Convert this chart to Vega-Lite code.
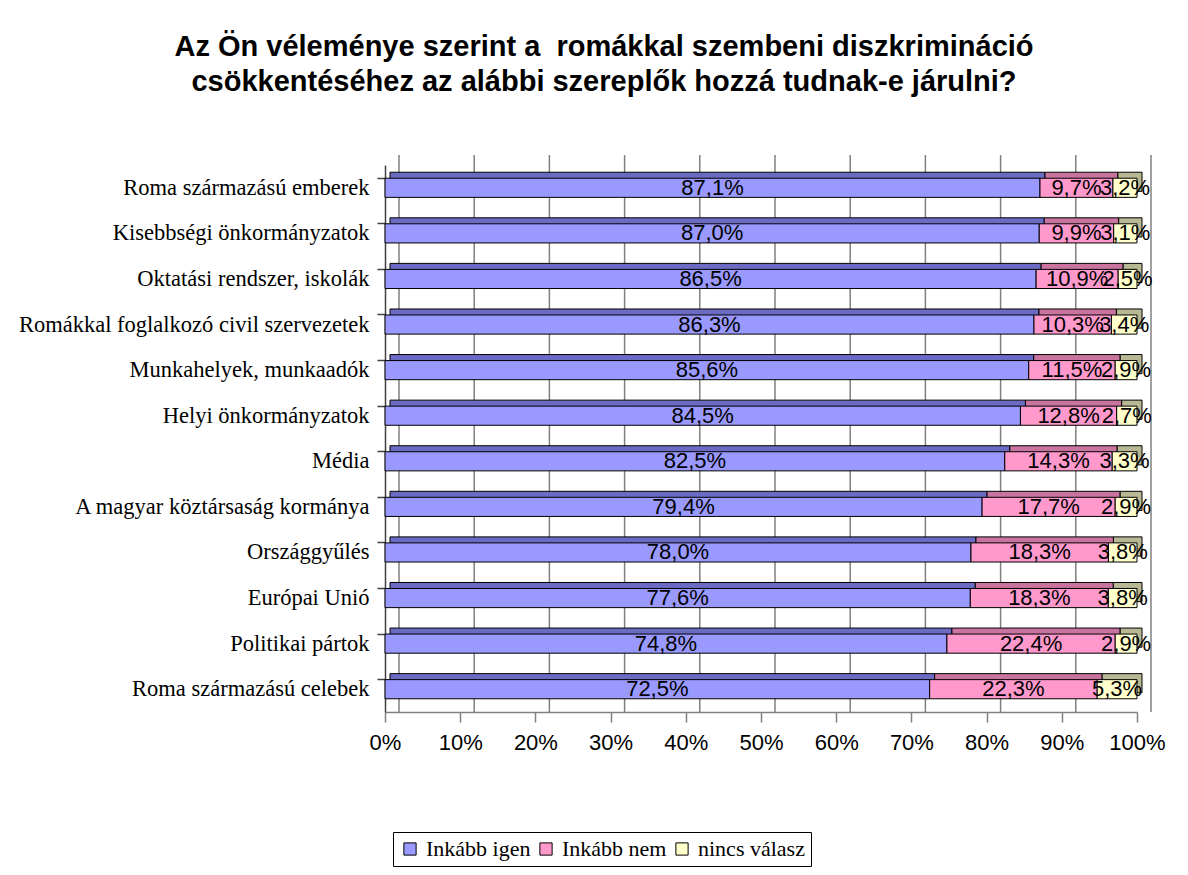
{
  "$schema": "https://vega.github.io/schema/vega-lite/v6.json",
  "width": 752,
  "height": 547,
  "autosize": {"type": "none"},
  "padding": {"left": 385, "top": 165, "right": 51, "bottom": 163},
  "background": "white",
  "title": {
    "text": ["Az Ön véleménye szerint a\u00a0 romákkal szembeni diszkrimináció", "csökkentéséhez az alábbi szereplők hozzá tudnak-e járulni?"],
    "font": "Liberation Sans",
    "fontSize": 29,
    "fontWeight": "bold",
    "color": "black",
    "anchor": "middle",
    "frame": "group",
    "dx": -157,
    "offset": 57,
    "lineHeight": 35
  },
  "datasets": {
    "grid": [{"g": 0}, {"g": 0.1}, {"g": 0.2}, {"g": 0.3}, {"g": 0.4}, {"g": 0.5}, {"g": 0.6}, {"g": 0.7}, {"g": 0.8}, {"g": 0.9}, {"g": 1}],
    "bars": [
      {"cat": "Roma származású emberek", "series": "Inkább igen", "o": 1, "value": 87.1, "label": "87,1%"},
      {"cat": "Roma származású emberek", "series": "Inkább nem", "o": 2, "value": 9.7, "label": "9,7%"},
      {"cat": "Roma származású emberek", "series": "nincs válasz", "o": 3, "value": 3.2, "label": "3,2%"},
      {"cat": "Kisebbségi önkormányzatok", "series": "Inkább igen", "o": 1, "value": 87.0, "label": "87,0%"},
      {"cat": "Kisebbségi önkormányzatok", "series": "Inkább nem", "o": 2, "value": 9.9, "label": "9,9%"},
      {"cat": "Kisebbségi önkormányzatok", "series": "nincs válasz", "o": 3, "value": 3.1, "label": "3,1%"},
      {"cat": "Oktatási rendszer, iskolák", "series": "Inkább igen", "o": 1, "value": 86.5, "label": "86,5%"},
      {"cat": "Oktatási rendszer, iskolák", "series": "Inkább nem", "o": 2, "value": 10.9, "label": "10,9%"},
      {"cat": "Oktatási rendszer, iskolák", "series": "nincs válasz", "o": 3, "value": 2.5, "label": "2,5%"},
      {"cat": "Romákkal foglalkozó civil szervezetek", "series": "Inkább igen", "o": 1, "value": 86.3, "label": "86,3%"},
      {"cat": "Romákkal foglalkozó civil szervezetek", "series": "Inkább nem", "o": 2, "value": 10.3, "label": "10,3%"},
      {"cat": "Romákkal foglalkozó civil szervezetek", "series": "nincs válasz", "o": 3, "value": 3.4, "label": "3,4%"},
      {"cat": "Munkahelyek, munkaadók", "series": "Inkább igen", "o": 1, "value": 85.6, "label": "85,6%"},
      {"cat": "Munkahelyek, munkaadók", "series": "Inkább nem", "o": 2, "value": 11.5, "label": "11,5%"},
      {"cat": "Munkahelyek, munkaadók", "series": "nincs válasz", "o": 3, "value": 2.9, "label": "2,9%"},
      {"cat": "Helyi önkormányzatok", "series": "Inkább igen", "o": 1, "value": 84.5, "label": "84,5%"},
      {"cat": "Helyi önkormányzatok", "series": "Inkább nem", "o": 2, "value": 12.8, "label": "12,8%"},
      {"cat": "Helyi önkormányzatok", "series": "nincs válasz", "o": 3, "value": 2.7, "label": "2,7%"},
      {"cat": "Média", "series": "Inkább igen", "o": 1, "value": 82.5, "label": "82,5%"},
      {"cat": "Média", "series": "Inkább nem", "o": 2, "value": 14.3, "label": "14,3%"},
      {"cat": "Média", "series": "nincs válasz", "o": 3, "value": 3.3, "label": "3,3%"},
      {"cat": "A magyar köztársaság kormánya", "series": "Inkább igen", "o": 1, "value": 79.4, "label": "79,4%"},
      {"cat": "A magyar köztársaság kormánya", "series": "Inkább nem", "o": 2, "value": 17.7, "label": "17,7%"},
      {"cat": "A magyar köztársaság kormánya", "series": "nincs válasz", "o": 3, "value": 2.9, "label": "2,9%"},
      {"cat": "Országgyűlés", "series": "Inkább igen", "o": 1, "value": 78.0, "label": "78,0%"},
      {"cat": "Országgyűlés", "series": "Inkább nem", "o": 2, "value": 18.3, "label": "18,3%"},
      {"cat": "Országgyűlés", "series": "nincs válasz", "o": 3, "value": 3.8, "label": "3,8%"},
      {"cat": "Európai Unió", "series": "Inkább igen", "o": 1, "value": 77.6, "label": "77,6%"},
      {"cat": "Európai Unió", "series": "Inkább nem", "o": 2, "value": 18.3, "label": "18,3%"},
      {"cat": "Európai Unió", "series": "nincs válasz", "o": 3, "value": 3.8, "label": "3,8%"},
      {"cat": "Politikai pártok", "series": "Inkább igen", "o": 1, "value": 74.8, "label": "74,8%"},
      {"cat": "Politikai pártok", "series": "Inkább nem", "o": 2, "value": 22.4, "label": "22,4%"},
      {"cat": "Politikai pártok", "series": "nincs válasz", "o": 3, "value": 2.9, "label": "2,9%"},
      {"cat": "Roma származású celebek", "series": "Inkább igen", "o": 1, "value": 72.5, "label": "72,5%"},
      {"cat": "Roma származású celebek", "series": "Inkább nem", "o": 2, "value": 22.3, "label": "22,3%"},
      {"cat": "Roma származású celebek", "series": "nincs válasz", "o": 3, "value": 5.3, "label": "5,3%"}
    ]
  },
  "layer": [
    {
      "data": {"name": "grid"},
      "mark": {"type": "rule", "color": "#808080", "strokeWidth": 1.5, "xOffset": 14, "yOffset": -10},
      "encoding": {
        "x": {"field": "g", "type": "quantitative", "scale": {"domain": [0, 1]}, "title": null,
          "axis": {"format": "%", "values": [0, 0.1, 0.2, 0.3, 0.4, 0.5, 0.6, 0.7, 0.8, 0.9, 1]}}
      }
    },
    {
      "data": {"name": "bars"},
      "mark": {"type": "bar", "xOffset": 5, "yOffset": -6, "stroke": "black", "strokeWidth": 1},
      "encoding": {
        "y": {"field": "cat", "type": "nominal", "sort": null, "title": null, "scale": {"paddingInner": 0.58, "paddingOuter": 0.29}},
        "x": {"field": "value", "type": "quantitative", "stack": "normalize", "title": null,
          "axis": {"format": "%", "values": [0, 0.1, 0.2, 0.3, 0.4, 0.5, 0.6, 0.7, 0.8, 0.9, 1]}},
        "color": {"field": "series", "type": "nominal", "scale": {"domain": ["Inkább igen", "Inkább nem", "nincs válasz"], "range": ["#6B6BC4", "#C9739F", "#B8B894"]}, "legend": null},
        "order": {"field": "o", "type": "quantitative"}
      }
    },
    {
      "data": {"name": "bars"},
      "mark": {"type": "bar", "stroke": "black", "strokeWidth": 1},
      "encoding": {
        "y": {"field": "cat", "type": "nominal", "sort": null, "title": null},
        "x": {"field": "value", "type": "quantitative", "stack": "normalize", "title": null,
          "axis": {"format": "%", "values": [0, 0.1, 0.2, 0.3, 0.4, 0.5, 0.6, 0.7, 0.8, 0.9, 1]}},
        "fill": {"field": "series", "type": "nominal", "scale": {"domain": ["Inkább igen", "Inkább nem", "nincs válasz"], "range": ["#9999FF", "#FF99CC", "#FFFFCC"]},
          "legend": {"title": null, "orient": "none", "legendX": 8, "legendY": 667, "direction": "horizontal", "symbolType": "square", "symbolSize": 150, "symbolStrokeColor": "black", "symbolStrokeWidth": 1, "labelFont": "Liberation Serif", "labelFontSize": 22, "labelColor": "black", "strokeColor": "black", "padding": 6, "columnPadding": 4, "labelOffset": 5}},
        "order": {"field": "o", "type": "quantitative"}
      }
    },
    {
      "data": {"name": "bars"},
      "mark": {"type": "text", "font": "Liberation Sans", "fontSize": 22, "color": "black", "baseline": "middle", "align": "center"},
      "encoding": {
        "y": {"field": "cat", "type": "nominal", "sort": null, "title": null},
        "x": {"field": "value", "type": "quantitative", "stack": "normalize", "bandPosition": 0.5, "title": null,
          "axis": {"format": "%", "values": [0, 0.1, 0.2, 0.3, 0.4, 0.5, 0.6, 0.7, 0.8, 0.9, 1]}},
        "detail": {"field": "series"},
        "text": {"field": "label"},
        "order": {"field": "o", "type": "quantitative"}
      }
    }
  ],
  "resolve": {"scale": {"color": "independent"}},
  "config": {
    "view": {"stroke": null},
    "axisX": {"labelFont": "Liberation Sans", "labelFontSize": 22, "labelColor": "black", "tickColor": "#808080", "tickWidth": 1.5, "tickSize": 10, "labelPadding": 10, "domainColor": "#808080", "domainWidth": 1.5, "grid": false, "labelFlush": false},
    "axisY": {"labelFont": "Liberation Serif", "labelFontSize": 22.5, "labelColor": "black", "labelLimit": 0, "ticks": true, "tickSize": 8, "tickColor": "#404040", "tickWidth": 1.5, "bandPosition": 0, "tickOffset": -13.2, "labelPadding": 8, "domainColor": "#404040", "domainWidth": 1.5, "grid": false}
  }
}
